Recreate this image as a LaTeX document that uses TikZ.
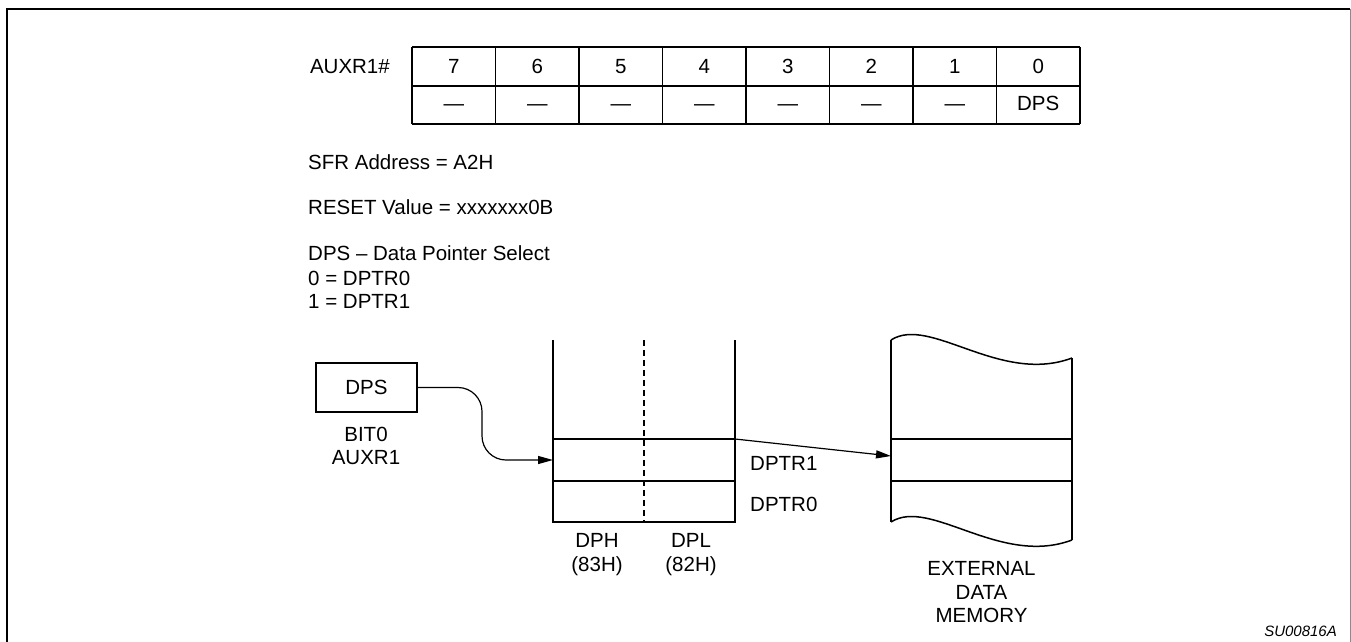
\documentclass[tikz,border=0pt]{standalone}
\usepackage{fontspec}
\setmainfont{Liberation Sans}
\usetikzlibrary{arrows.meta}
\begin{document}
\begin{tikzpicture}[x=1pt,y=-1pt,
  txt/.style={font=\fontsize{20.5}{24}\selectfont, inner sep=0pt},
  hair/.style={line width=1.2pt},
  thickl/.style={line width=2.4pt},
  wave/.style={line width=1.5pt},
  gridl/.style={line width=1.1pt},
  conn/.style={line width=1.2pt, -{Triangle[length=15pt,width=8pt]}},
]
\useasboundingbox (0,0) rectangle (1351,642);
% frame
\draw[line width=2pt] (7,642) -- (7,9) -- (1350,9);
\draw[line width=1pt, black!45] (1350,9) -- (1350,642);

% register table
\foreach \i in {0,...,8} \draw[gridl] ({412+83.5*\i},47) -- ({412+83.5*\i},124);
\draw[gridl] (412,47) -- (1080,47);
\draw[gridl] (412,124) -- (1080,124);
\draw[line width=1.8pt] (412,86) -- (1080,86);
\node[txt, anchor=base east] (regname) at (390,73.3) {AUXR1\#};
\foreach \b [count=\k from 0] in {7,6,5,4,3,2,1,0}
  \node[txt, anchor=base] (bit\b) at ({453.75+83.5*\k},73.3) {\b};
\foreach \k in {0,...,6}
  \node[txt, anchor=base] (fld\k) at ({453.75+83.5*\k},110) {—};
\node[txt, anchor=base] (fldDPS) at ({453.75+83.5*7},110) {DPS};

% description
\node[txt, anchor=base west] (sfr) at (308,169) {SFR Address = A2H};
\node[txt, anchor=base west] (rst) at (308,214) {RESET Value = xxxxxxx0B};
\node[txt, anchor=base west] (dpsd) at (308,260) {DPS – Data Pointer Select};
\node[txt, anchor=base west] (d0) at (308,285.5) {0 = DPTR0};
\node[txt, anchor=base west] (d1) at (308,308.5) {1 = DPTR1};

% DPS box
\node[draw, thickl, txt, minimum width=101pt, minimum height=49pt] (dps) at (366.5,387.5) {DPS};
\node[txt, anchor=base] (bit0) at (366,441.5) {BIT0};
\node[txt, anchor=base] (aux) at (366,464) {AUXR1};

% register pair
\coordinate (rTL) at (553,340);
\coordinate (rTR) at (735,340);
\coordinate (rBL) at (553,522);
\coordinate (rBR) at (735,522);
\draw[thickl] (rTL) -- (rBL) -- (rBR) -- (rTR);
\draw[hair] (553,439) -- (735,439);
\draw[hair] (553,481) -- (735,481);
\draw[line width=2.2pt, dash pattern=on 6pt off 4pt] (644,340) -- (644,522);
\node[txt, anchor=base] (dph) at (597,547) {DPH};
\node[txt, anchor=base] (dphA) at (597,571) {(83H)};
\node[txt, anchor=base] (dpl) at (691,547) {DPL};
\node[txt, anchor=base] (dplA) at (691,571) {(82H)};
\node[txt, anchor=base west] (p1) at (750,470.5) {DPTR1};
\node[txt, anchor=base west] (p0) at (750,511) {DPTR0};

% connector DPS -> register
\coordinate (bendA) at (482,387.5);
\coordinate (bendB) at (482,460);
\coordinate (dpsIn) at (553,460);
\draw[conn, rounded corners=24pt] (dps.east) -- (bendA) -- (bendB) -- (dpsIn);

% external memory
\draw[thickl] (891,340) -- (891,522);
\draw[thickl] (1072,358) -- (1072,540);
\draw[wave] (891,340) .. controls (930,315) and (1000,385) .. (1072,358);
\draw[wave] (891,522) .. controls (930,497) and (1000,567) .. (1072,540);
\draw[hair] (891,439) -- (1072,439);
\draw[hair] (891,481) -- (1072,481);
\node[txt, anchor=base] (ext1) at (981.5,575.7) {EXTERNAL};
\node[txt, anchor=base] (ext2) at (981.5,599) {DATA};
\node[txt, anchor=base] (ext3) at (981.5,622) {MEMORY};

% connector register -> memory
\coordinate (rOut) at (735,439);
\coordinate (memIn) at (891,456);
\draw[conn] (rOut) -- (memIn);

\node[font=\fontsize{15}{18}\selectfont\itshape, anchor=base east, inner sep=0pt] (code) at (1337,636.7) {SU00816A};
\end{tikzpicture}
\end{document}
